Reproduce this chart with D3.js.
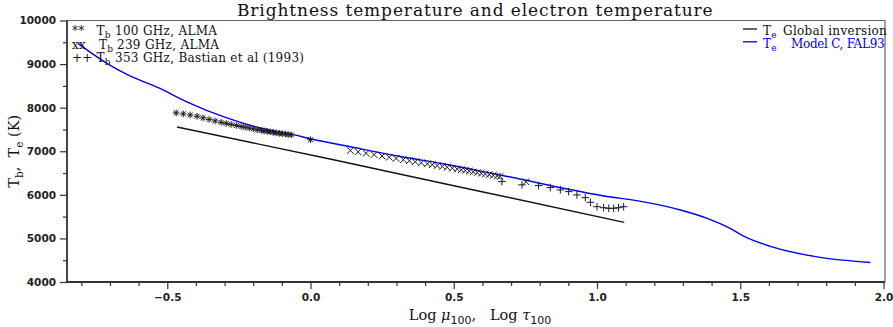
<!DOCTYPE html>
<html lang="en">
<head>
<meta charset="UTF-8">
<title>Brightness temperature and electron temperature</title>
<script src="https://d3js.org/d3.v7.min.js"></script>
<style>
    body { margin: 0; background: #fff; }
    .tick text { font-family: "DejaVu Sans", sans-serif; font-size: 10.5px; font-weight: bold; fill: #222; }
    .tick line { stroke: #333; stroke-width: 1.2; }
    .serif { font-family: "DejaVu Serif", serif; fill: #111; }
    .leg { font-size: 12px; letter-spacing: 0.3px; }
</style>
</head>
<body>
<svg width="893" height="327"></svg>
<script>
    // FAL93 model C electron temperature
    const falLogTau = [-0.812, -0.758, -0.699, -0.641, -0.525, -0.432, -0.292, -0.176, -0.060, 0.0,
                       0.139, 0.313, 0.463, 0.662, 1.011, 1.186, 1.291, 1.384, 1.454, 1.512, 1.617, 1.768, 1.954];
    const falTe     = [9477, 9223, 8970, 8762, 8440, 8135, 7765, 7534, 7380, 7288,
                       7104, 6880, 6712, 6455, 5990, 5810, 5652, 5461, 5267, 5053, 4793, 4576, 4447];

    // global inversion
    const invLogTau = [-0.466, 0.068, 0.476, 1.095];
    const invTe     = [7557, 6822, 6244, 5369];

    // Tb 100 GHz ALMA (asterisks)
    const b100Mu = [-0.469, -0.444, -0.420, -0.396, -0.375, -0.354, -0.333, -0.312, -0.294, -0.277,
                    -0.259, -0.242, -0.228, -0.214, -0.200, -0.186, -0.172, -0.162, -0.151, -0.141,
                    -0.130, -0.120, -0.109, -0.099, -0.088, -0.078, -0.067, 0.0];
    const b100Tb = [7880, 7857, 7832, 7802, 7765, 7730, 7696, 7663, 7638, 7615,
                    7592, 7569, 7550, 7532, 7514, 7495, 7479, 7468, 7456, 7444,
                    7433, 7421, 7412, 7403, 7394, 7385, 7375, 7265];

    // Tb 239 GHz ALMA (crosses)
    const b239Mu = [0.139, 0.166, 0.194, 0.222, 0.250, 0.275, 0.299, 0.324, 0.345, 0.366,
                    0.387, 0.408, 0.425, 0.442, 0.460, 0.477, 0.495, 0.512, 0.526, 0.540,
                    0.554, 0.568, 0.582, 0.596, 0.610, 0.624, 0.638, 0.652, 0.662, 0.752];
    const b239Tb = [7018, 6986, 6954, 6922, 6890, 6862, 6834, 6806, 6783, 6759,
                    6735, 6711, 6691, 6671, 6651, 6631, 6611, 6591, 6575, 6559,
                    6543, 6527, 6511, 6495, 6479, 6463, 6447, 6431, 6419, 6300];

    // Tb 353 GHz Bastian et al (1993) (plus signs)
    const b353Mu = [0.668, 0.738, 0.796, 0.837, 0.872, 0.901, 0.930, 0.959, 0.977,
                    1.000, 1.023, 1.041, 1.058, 1.075, 1.093];
    const b353Tb = [6304, 6228, 6212, 6166, 6113, 6074, 5998, 5935, 5829,
                    5728, 5705, 5691, 5691, 5705, 5728];

    const xMajor = [-0.5, 0.0, 0.5, 1.0, 1.5, 2.0];
    const yMajor = [4000, 5000, 6000, 7000, 8000, 9000, 10000];

    const svg = d3.select("svg");
    const pLeft = 67, pRight = 883.5, pTop = 20.5, pBottom = 282;

    const x = d3.scaleLinear().domain([-0.85, 2.0]).range([pLeft, pRight]);
    const y = d3.scaleLinear().domain([4000, 10000]).range([pBottom, pTop]);

    // minor ticks
    const xMinor = d3.range(-8, 21).map(i => i / 10).filter(v => !xMajor.some(m => Math.abs(m - v) < 1e-6));
    const yMinor = d3.range(4500, 10000, 1000);

    svg.append("g").attr("transform", `translate(0,${pBottom})`)
       .call(d3.axisBottom(x).tickValues(xMinor).tickSize(4).tickFormat(""))
       .call(g => g.select(".domain").remove());
    svg.append("g").attr("transform", `translate(0,${pBottom})`)
       .call(d3.axisBottom(x).tickValues(xMajor).tickSize(7).tickPadding(5).tickFormat(d3.format(".1f")))
       .call(g => g.select(".domain").remove());

    svg.append("g").attr("transform", `translate(${pLeft},0)`)
       .call(d3.axisLeft(y).tickValues(yMinor).tickSize(4).tickFormat(""))
       .call(g => g.select(".domain").remove());
    svg.append("g").attr("transform", `translate(${pLeft},0)`)
       .call(d3.axisLeft(y).tickValues(yMajor).tickSize(7).tickPadding(4).tickFormat(d => d))
       .call(g => g.select(".domain").remove());

    // frame
    svg.append("path")
       .attr("d", `M${pLeft},${pTop}H${pRight + 1.5}V${pBottom}`)
       .attr("fill", "none").attr("stroke", "#666").attr("stroke-width", 1.2);
    svg.append("path")
       .attr("d", `M${pLeft},${pTop}V${pBottom}H${pRight + 1.5}`)
       .attr("fill", "none").attr("stroke", "#333").attr("stroke-width", 1.8);

    const line = d3.line().x(d => x(d[0])).y(d => y(d[1]));

    svg.append("path")
       .datum(d3.zip(invLogTau, invTe))
       .attr("d", line)
       .attr("fill", "none").attr("stroke", "#111").attr("stroke-width", 1.4);

    svg.append("path")
       .datum(d3.zip(falLogTau, falTe))
       .attr("d", line.curve(d3.curveMonotoneX))
       .attr("fill", "none").attr("stroke", "#0000ee").attr("stroke-width", 1.4);

    // markers
    const s = 3.3;
    const plusPath  = `M${-s - 0.5},0H${s + 0.5}M0,${-s - 0.5}V${s + 0.5}`;
    const crossPath = `M${-s},${-s}L${s},${s}M${-s},${s}L${s},${-s}`;
    const starPath  = `M${-s},0H${s}M0,${-s}V${s}M${-s*0.75},${-s*0.75}L${s*0.75},${s*0.75}M${-s*0.75},${s*0.75}L${s*0.75},${-s*0.75}`;

    function markers(xs, ys, path, cls) {
        svg.selectAll("path." + cls)
           .data(d3.zip(xs, ys))
           .join("path").attr("class", cls)
             .attr("transform", d => `translate(${x(d[0])},${y(d[1])})`)
             .attr("d", path)
             .attr("fill", "none").attr("stroke", "#1a1a1a").attr("stroke-width", 1);
    }
    markers(b100Mu, b100Tb, starPath, "star");
    markers(b239Mu, b239Tb, crossPath, "cross");
    markers(b353Mu, b353Tb, plusPath, "plus");

    // title
    svg.append("text").attr("class", "serif")
       .attr("x", (pLeft + pRight) / 2).attr("y", 15.5)
       .attr("text-anchor", "middle").style("font-size", "17px").style("letter-spacing", "0.9px")
       .text("Brightness temperature and electron temperature");

    // axis titles
    const xt = svg.append("text").attr("class", "serif")
       .attr("x", 480).attr("y", 320)
       .attr("text-anchor", "middle").style("font-size", "14.5px");
    xt.append("tspan").text("Log ");
    xt.append("tspan").style("font-style", "italic").text("μ");
    xt.append("tspan").attr("dy", 4).style("font-size", "11px").style("font-family", "DejaVu Sans").text("100");
    xt.append("tspan").attr("dy", -4).attr("xml:space", "preserve").text(",   Log ");
    xt.append("tspan").style("font-style", "italic").text("τ");
    xt.append("tspan").attr("dy", 4).style("font-size", "11px").style("font-family", "DejaVu Sans").text("100");

    const yt = svg.append("text").attr("class", "serif")
       .attr("transform", `translate(19,${(pTop + pBottom) / 2}) rotate(-90)`)
       .attr("text-anchor", "middle").style("font-size", "14.5px");
    yt.append("tspan").text("T");
    yt.append("tspan").attr("dy", 4).style("font-size", "10.5px").text("b");
    yt.append("tspan").attr("dy", -4).attr("xml:space", "preserve").text(",  T");
    yt.append("tspan").attr("dy", 4).style("font-size", "10.5px").text("e");
    yt.append("tspan").attr("dy", -4).text(" (K)");

    // subscripted symbol helper
    function sym(xp, yp, main, sub, color) {
        const t = svg.append("text").attr("class", "serif leg").attr("x", xp).attr("y", yp)
           .style("fill", color);
        t.append("tspan").text(main);
        t.append("tspan").attr("dy", 3).style("font-size", "9px").text(sub);
    }

    // left legend
    const legMarks = ["**", "xx", "++"];
    const legNames = ["100 GHz, ALMA", "239 GHz, ALMA", "353 GHz, Bastian et al (1993)"];
    legNames.forEach((name, i) => {
        const yy = 35 + i * 13.6;
        svg.append("text").attr("class", "serif leg").attr("x", 72).attr("y", yy).text(legMarks[i]);
        sym(i === 1 ? 99 : 96.5, yy, "T", "b", "#111");
        svg.append("text").attr("class", "serif leg").attr("x", i === 1 ? 117 : 115).attr("y", yy).text(name);
    });

    // right legend
    const legColors = ["#111", "#0000ee"];
    const legLabels = ["Global inversion", "Model C, FAL93"];
    const legSpace  = ["0.3px", "-0.3px"];
    legLabels.forEach((name, i) => {
        const yy = 35 + i * 12.8;
        svg.append("line").attr("x1", 743).attr("x2", 757).attr("y1", yy - 6).attr("y2", yy - 6)
           .attr("stroke", legColors[i]).attr("stroke-width", 1.3);
        sym(763, yy, "T", "e", legColors[i]);
        svg.append("text").attr("class", "serif").attr("x", i === 0 ? 783 : 791).attr("y", yy)
           .style("font-size", "12px").style("letter-spacing", legSpace[i])
           .style("fill", legColors[i]).text(name);
    });
</script>
</body>
</html>
